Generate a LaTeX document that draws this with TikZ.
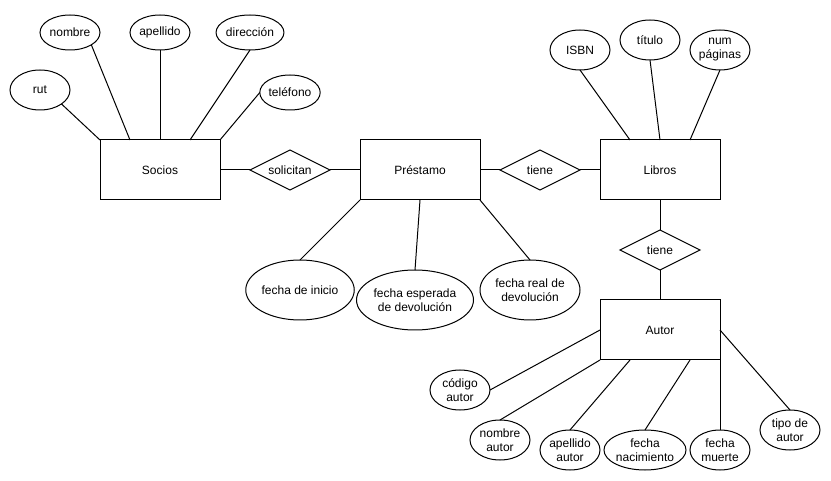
\documentclass[tikz,border=0pt]{standalone}
\usepackage{fontspec}
\setmainfont{Liberation Sans}
\usetikzlibrary{shapes.geometric}

\begin{document}
\begin{tikzpicture}[x=1pt,y=-1pt,
  every node/.style={font=\fontsize{12}{14}\selectfont, align=center, inner sep=0pt, outer sep=0pt},
  entity/.style={draw, line width=1pt, rectangle, minimum width=120pt, minimum height=60pt},
  relation/.style={draw, line width=1pt, diamond, aspect=2, minimum width=80pt, minimum height=40pt},
  attr/.style={draw, line width=1pt, ellipse, minimum width=60pt, minimum height=40pt},
  attrlow/.style={attr, minimum height=35pt},
  attrwide/.style={attr, minimum width=100pt, minimum height=60pt},
  link/.style={line width=1pt}]

\useasboundingbox (0,0) rectangle (831,481);

% entities
\node[entity] (Socios)   at (160,170) {Socios};
\node[entity] (Prestamo) at (420,170) {Préstamo};
\node[entity] (Libros)   at (660,170) {Libros};
\node[entity] (Autor)    at (660,330) {Autor};

% relationships
\node[relation] (solicitan) at (290,170) {solicitan};
\node[relation] (tieneA)    at (540,170) {tiene};
\node[relation] (tieneB)    at (660,250) {tiene};

% attributes of Socios
\node[attr]    (rut)       at (40,90)    {rut};
\node[attrlow] (nombre)    at (70,32.5)  {nombre};
\node[attrlow] (apellido)  at (160,32.5) {apellido};
\node[attrlow] (direccion) at (250,32.5) {dirección};
\node[attrlow] (telefono)  at (290,92.5) {teléfono};

% attributes of Libros
\node[attr] (isbn)   at (580,50) {ISBN};
\node[attr] (titulo) at (650,40) {título};
\node[attr] (numpag) at (720,50) {num\\páginas};

% attributes of Préstamo
\node[attrwide] (inicio)   at (300,290) {fecha de inicio};
\node[attrwide] (esperada) at (415,300) {fecha esperada\\de devolución};
\node[attrwide] (real)     at (530,290) {fecha real de\\devolución};

% attributes of Autor
\node[attr] (codigo)      at (460,390) {código\\autor};
\node[attr] (nombreaut)   at (500,440) {nombre\\autor};
\node[attr] (apellidoaut) at (570,450) {apellido\\autor};
\node[attr, minimum width=64pt] (nacimiento) at (645,450) {fecha\\nacimiento};
\node[attr] (muerte)      at (720,450) {fecha\\muerte};
\node[attr] (tipo)        at (790,430) {tipo de\\autor};

% relationship links
\draw[link] (Socios.east) -- (solicitan.west);
\draw[link] (solicitan.east) -- (Prestamo.west);
\draw[link] (Prestamo.east) -- (tieneA.west);
\draw[link] (tieneA.east) -- (Libros.west);
\draw[link] (Libros.south) -- (tieneB.north);
\draw[link] (tieneB.south) -- (Autor.north);

% Socios attribute links
\draw[link] (Socios.north west) -- (rut.-33.69);
\draw[link] (Socios.135) -- (nombre.-30.26);
\draw[link] (Socios.north) -- (apellido.south);
\draw[link] (Socios.45) -- (direccion.south);
\draw[link] (Socios.north east) -- (telefono.west);

% Libros attribute links
\draw[link] (Libros.135) -- (isbn.south);
\draw[link] (Libros.north) -- (titulo.south);
\draw[link] (Libros.45) -- (numpag.south);

% Préstamo attribute links
\draw[link] (Prestamo.south west) -- (inicio.north);
\draw[link] (Prestamo.south) -- (esperada.north);
\draw[link] (Prestamo.south east) -- (real.north);

% Autor attribute links
\draw[link] (Autor.west) -- (codigo.east);
\draw[link] (Autor.south west) -- (nombreaut.north);
\draw[link] (Autor.-135) -- (apellidoaut.north);
\draw[link] (Autor.-45) -- (nacimiento.north);
\draw[link] (Autor.south east) -- (muerte.north);
\draw[link] (Autor.east) -- (tipo.north);
\end{tikzpicture}
\end{document}
